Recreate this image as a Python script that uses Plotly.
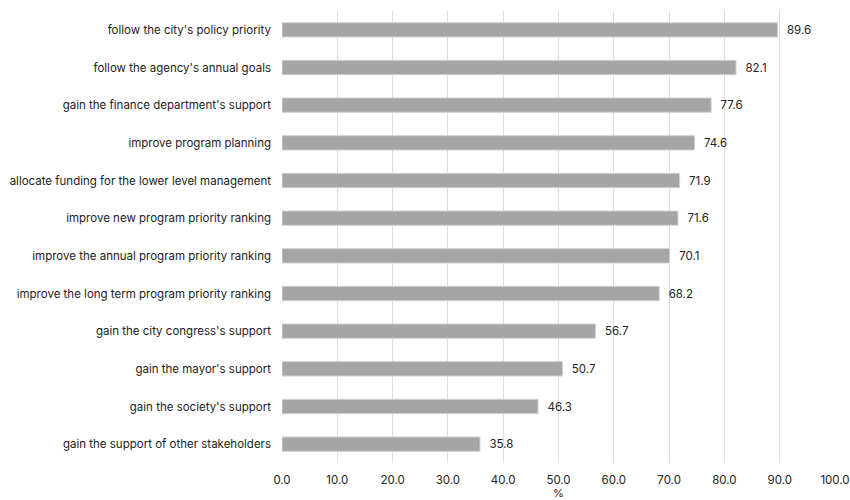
import plotly.graph_objects as go

categories = [
    "follow the city's policy priority",
    "follow the agency's annual goals",
    "gain the finance department's support",
    "improve program planning",
    "allocate funding for the lower level management",
    "improve new program priority ranking",
    "improve the annual program priority ranking",
    "improve the long term program priority ranking",
    "gain the city congress's support",
    "gain the mayor's support",
    "gain the society's support",
    "gain the support of other stakeholders",
]
values = [89.6, 82.1, 77.6, 74.6, 71.9, 71.6, 70.1, 68.2, 56.7, 50.7, 46.3, 35.8]
tick_vals = [0, 10, 20, 30, 40, 50, 60, 70, 80, 90, 100]
tick_text = [f"{v:.1f}" for v in tick_vals]

fig = go.Figure(go.Bar(
    x=values, y=categories, orientation="h",
    marker=dict(color="#a5a5a5", line=dict(color="#d0d0d0", width=1)),
    width=0.38,
    text=[f"\u00a0\u00a0{v:.1f}" for v in values], textposition="outside",
    textfont=dict(size=11.5, color="#222"),
    cliponaxis=False,
))
fig.update_layout(
    width=850, height=500,
    margin=dict(l=282, r=15, t=11, b=37),
    paper_bgcolor="white", plot_bgcolor="white",
    font=dict(family="Inter, sans-serif", size=11.5, color="#222"),
    showlegend=False,
)
fig.update_xaxes(
    range=[0, 100], tickvals=tick_vals, ticktext=tick_text,
    showgrid=True, gridcolor="#dedede", gridwidth=1, zeroline=False,
    title=dict(text="%", font=dict(size=11), standoff=2),
    ticks="outside", ticklen=6, tickcolor="rgba(0,0,0,0)",
    automargin=False,
)
fig.update_yaxes(
    autorange="reversed", showgrid=False, ticks="", ticklabelstandoff=10,
    showline=False, automargin=False,
)
fig.write_html(
    "out.html",
    config={"displayModeBar": False},
    post_script="document.body.style.margin='0';document.body.style.overflow='hidden';",
)
